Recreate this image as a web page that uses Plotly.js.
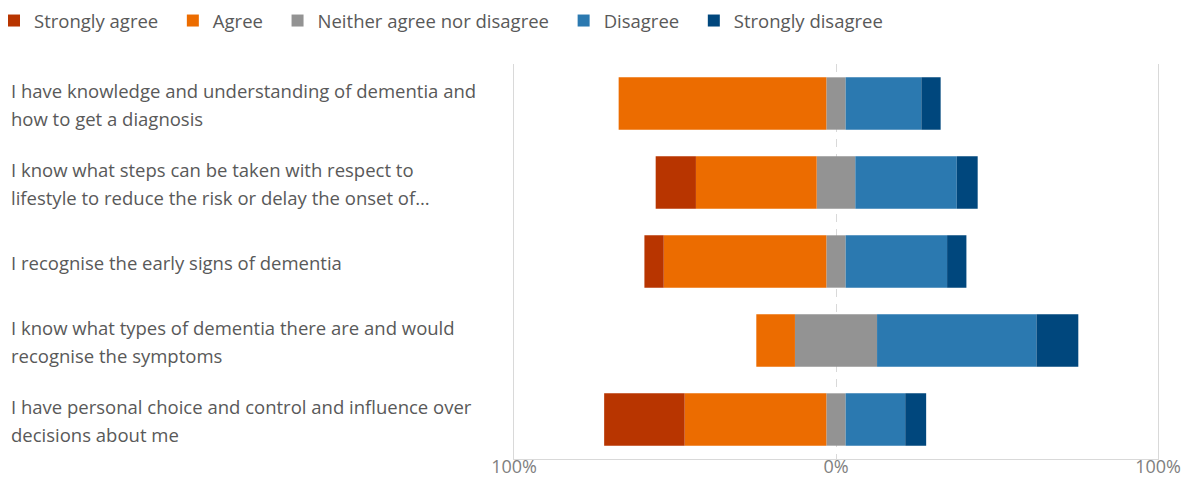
<!DOCTYPE html>
<html>
<head>
<meta charset="utf-8">
<script src="https://cdn.plot.ly/plotly-3.0.1.min.js"></script>
<style>html,body{margin:0;padding:0;background:#fff;}#chart{width:1193px;height:478px;}</style>
</head>
<body>
<div id="chart"></div>
<script>
// ---- data (percent of respondents) ----
var categories = [
  "I have knowledge and understanding of dementia and<br>how to get a diagnosis",
  "I know what steps can be taken with respect to<br>lifestyle to reduce the risk or delay the onset of…",
  "I recognise the early signs of dementia",
  "I know what types of dementia there are and would<br>recognise the symptoms",
  "I have personal choice and control and influence over<br>decisions about me"
];
var stronglyAgree    = [0,    12.5, 6,    0,    25];
var agree            = [64.5, 37.5, 50.5, 12,   44];
var neutral          = [6,    12,   6,    25.5, 6];
var disagree         = [23.5, 31.5, 31.5, 49.5, 18.5];
var stronglyDisagree = [6,    6.5,  6,    13,   6.5];
var seriesNames = ["Strongly agree", "Agree", "Neither agree nor disagree", "Disagree", "Strongly disagree"];
var tickValues = [-100, 0, 100];
var tickLabels = ["100%", "0%", "100%"];

var colors = {sa: "#B83500", a: "#EC6C00", n: "#939393", d: "#2B79B0", sd: "#00477D"};
var FONT = "Open Sans, Noto Sans, sans-serif";
var PAD = "\u00a0\u00a0";

function bar(name, x, color, rank, showlegend) {
  return {
    type: "bar", orientation: "h", name: name + PAD, x: x, y: categories,
    marker: {color: color, line: {width: 0}},
    legendrank: rank, showlegend: showlegend, hoverinfo: "name+x"
  };
}

var traces = [
  bar(seriesNames[2], neutral.map(function (v) { return -v / 2; }), colors.n, 3, true),
  bar(seriesNames[2], neutral.map(function (v) { return v / 2; }), colors.n, 3, false),
  bar(seriesNames[1], agree.map(function (v) { return -v; }), colors.a, 2, true),
  bar(seriesNames[3], disagree, colors.d, 4, true),
  bar(seriesNames[0], stronglyAgree.map(function (v) { return -v; }), colors.sa, 1, true),
  bar(seriesNames[4], stronglyDisagree, colors.sd, 5, true)
];

var ML = 514, MR = 35, MT = 64, MB = 19, W = 1193, H = 478;
var PW = W - ML - MR, PH = H - MT - MB;

var annotations = [];
categories.forEach(function (c) {
  var lines = c.split("<br>");
  var shifts = lines.length === 2 ? [13, -14.5] : [-0.5];
  lines.forEach(function (t, i) {
    annotations.push({
      xref: "paper", yref: "y", x: (9 - ML) / PW, y: c,
      xanchor: "left", yanchor: "middle", text: t, showarrow: false,
      yshift: shifts[i], font: {family: FONT, size: 18.5, color: "#595959"}
    });
  });
});

var layout = {
  width: W, height: H,
  margin: {l: ML, r: MR, t: MT, b: MB, autoexpand: false},
  paper_bgcolor: "#fff", plot_bgcolor: "#fff",
  barmode: "relative", bargap: 0.337,
  font: {family: FONT, color: "#595959"},
  showlegend: true,
  legend: {
    orientation: "h", x: (-6 - ML) / PW, xanchor: "left",
    y: 1 + (MT - 2) / PH, yanchor: "top",
    font: {family: FONT, size: 18.5, color: "#595959"},
    traceorder: "normal", bgcolor: "rgba(0,0,0,0)"
  },
  xaxis: {
    range: [-100, 100], tickvals: tickValues, ticktext: tickLabels,
    showgrid: true, griddash: "8px,7px", gridcolor: "#d9d9d9", gridwidth: 1,
    zeroline: false, showline: true, linecolor: "#d9d9d9", linewidth: 1,
    ticks: "", ticklabelstandoff: -9, automargin: false, fixedrange: true,
    tickfont: {family: FONT, size: 18, color: "#7f7f7f"}
  },
  yaxis: {
    type: "category", autorange: "reversed", showticklabels: false,
    showgrid: false, zeroline: false, showline: true, mirror: true,
    linecolor: "#d9d9d9", linewidth: 1, ticks: "", automargin: false, fixedrange: true
  },
  annotations: annotations
};

Plotly.newPlot("chart", traces, layout, {displayModeBar: false, staticPlot: true});
</script>
</body>
</html>
